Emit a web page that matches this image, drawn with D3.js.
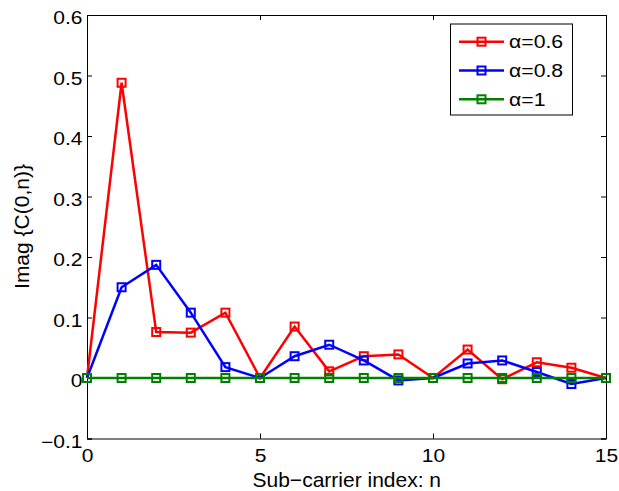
<!DOCTYPE html>
<html><head><meta charset="utf-8">
<script src="https://cdn.jsdelivr.net/npm/d3@7"></script>
<style>body{margin:0;background:#fff}svg{display:block}text{font-family:"Liberation Sans",Arial,sans-serif}</style>
</head><body>
<script>
const n = d3.range(0, 16);
const red = [0, 0.488, 0.076, 0.075, 0.108, 0, 0.085, 0.011, 0.036, 0.039, 0, 0.047, -0.002, 0.026, 0.017, 0];
const blue = [0, 0.150, 0.187, 0.108, 0.018, 0, 0.036, 0.055, 0.029, -0.004, 0, 0.024, 0.029, 0.010, -0.010, 0];
const green = [0, 0, 0, 0, 0, 0, 0, 0, 0, 0, 0, 0, 0, 0, 0, 0];
const seriesNames = ["\u03b1=0.6", "\u03b1=0.8", "\u03b1=1"];
const seriesColors = ["#ff0000", "#0000ff", "#008000"];
const xTicks = [0, 5, 10, 15];
const yTicks = [-0.1, 0, 0.1, 0.2, 0.3, 0.4, 0.5, 0.6];

const W = 619, H = 491;
const L = 87, R = 606, T = 15, B = 438.5;
const SX = 1.2; // horizontal stretch of tick/legend text
const svg = d3.select("body").append("svg").attr("width", W).attr("height", H);
const x = d3.scaleLinear().domain([0, 15]).range([L, R]);
const y = d3.scaleLinear().domain([-0.1, 0.6]).range([B, T]);

const fmt = d => d === 0 ? "0" : d3.format(".1f")(d).replace("-", "\u2212");

// axes
const gx = svg.append("g").attr("transform", `translate(0,${B})`)
  .call(d3.axisBottom(x).tickValues(xTicks).tickSize(-5).tickPadding(10).tickFormat(d3.format("d")));
const gxt = svg.append("g").attr("transform", `translate(0,${T})`)
  .call(d3.axisTop(x).tickValues(xTicks).tickSize(-5).tickFormat(""));
const gy = svg.append("g").attr("transform", `translate(${L},0)`)
  .call(d3.axisLeft(y).tickValues(yTicks).tickSize(-5).tickPadding(4.5).tickFormat(fmt));
const gyr = svg.append("g").attr("transform", `translate(${R},0)`)
  .call(d3.axisRight(y).tickValues(yTicks).tickSize(-5).tickFormat(""));
[gx, gxt, gy, gyr].forEach(g => {
  g.selectAll(".domain").attr("stroke", "#000").attr("stroke-width", 1);
  g.selectAll(".tick line").attr("stroke", "#000");
  g.selectAll("text").attr("font-size", 17.5).attr("fill", "#000").attr("font-family", "Liberation Sans, Arial, sans-serif");
});
gx.selectAll("text").attr("y", 23.2).attr("dy", 0).attr("x", 0).attr("transform", `scale(${SX},1)`);
gy.selectAll("text").attr("x", -4.5 / SX).attr("dy", "0.5em").attr("transform", `scale(${SX},1)`);

const data = [red, blue, green];
const line = d3.line().x((d, i) => x(n[i])).y(d => y(d));
data.forEach((vals, k) => {
  svg.append("path").datum(vals).attr("d", line).attr("fill", "none")
    .attr("stroke", seriesColors[k]).attr("stroke-width", 2.5).attr("stroke-linejoin", "miter");
  svg.selectAll(null).data(vals).enter().append("rect")
    .attr("x", (d, i) => x(n[i]) - 4).attr("y", d => y(d) - 4)
    .attr("width", 8).attr("height", 8)
    .attr("fill", "none").attr("stroke", seriesColors[k]).attr("stroke-width", 2);
});

// legend
const lg = svg.append("g");
lg.append("rect").attr("x", 450.5).attr("y", 24).attr("width", 122).attr("height", 91)
  .attr("fill", "#fff").attr("stroke", "#000").attr("stroke-width", 1);
seriesNames.forEach((name, k) => {
  const yy = 41.7 + k * 28.8;
  lg.append("line").attr("x1", 459).attr("x2", 504).attr("y1", yy).attr("y2", yy)
    .attr("stroke", seriesColors[k]).attr("stroke-width", 2.5);
  lg.append("rect").attr("x", 481.5 - 4).attr("y", yy - 4).attr("width", 8).attr("height", 8)
    .attr("fill", "none").attr("stroke", seriesColors[k]).attr("stroke-width", 2);
  lg.append("text").attr("transform", `translate(509,${yy}) scale(${SX - 0.02},1)`)
    .attr("dy", "0.36em").attr("font-size", 18).text(name);
});

// labels
svg.append("text").attr("x", 252.5).attr("y", 486.5).attr("text-anchor", "start")
  .attr("font-size", 21).text("Sub\u2212carrier index: n");
svg.append("text").attr("transform", `translate(28.5,226.5) rotate(-90)`)
  .attr("text-anchor", "middle").attr("font-size", 21).text("Imag {C(0,n)}");
</script>
</body></html>
